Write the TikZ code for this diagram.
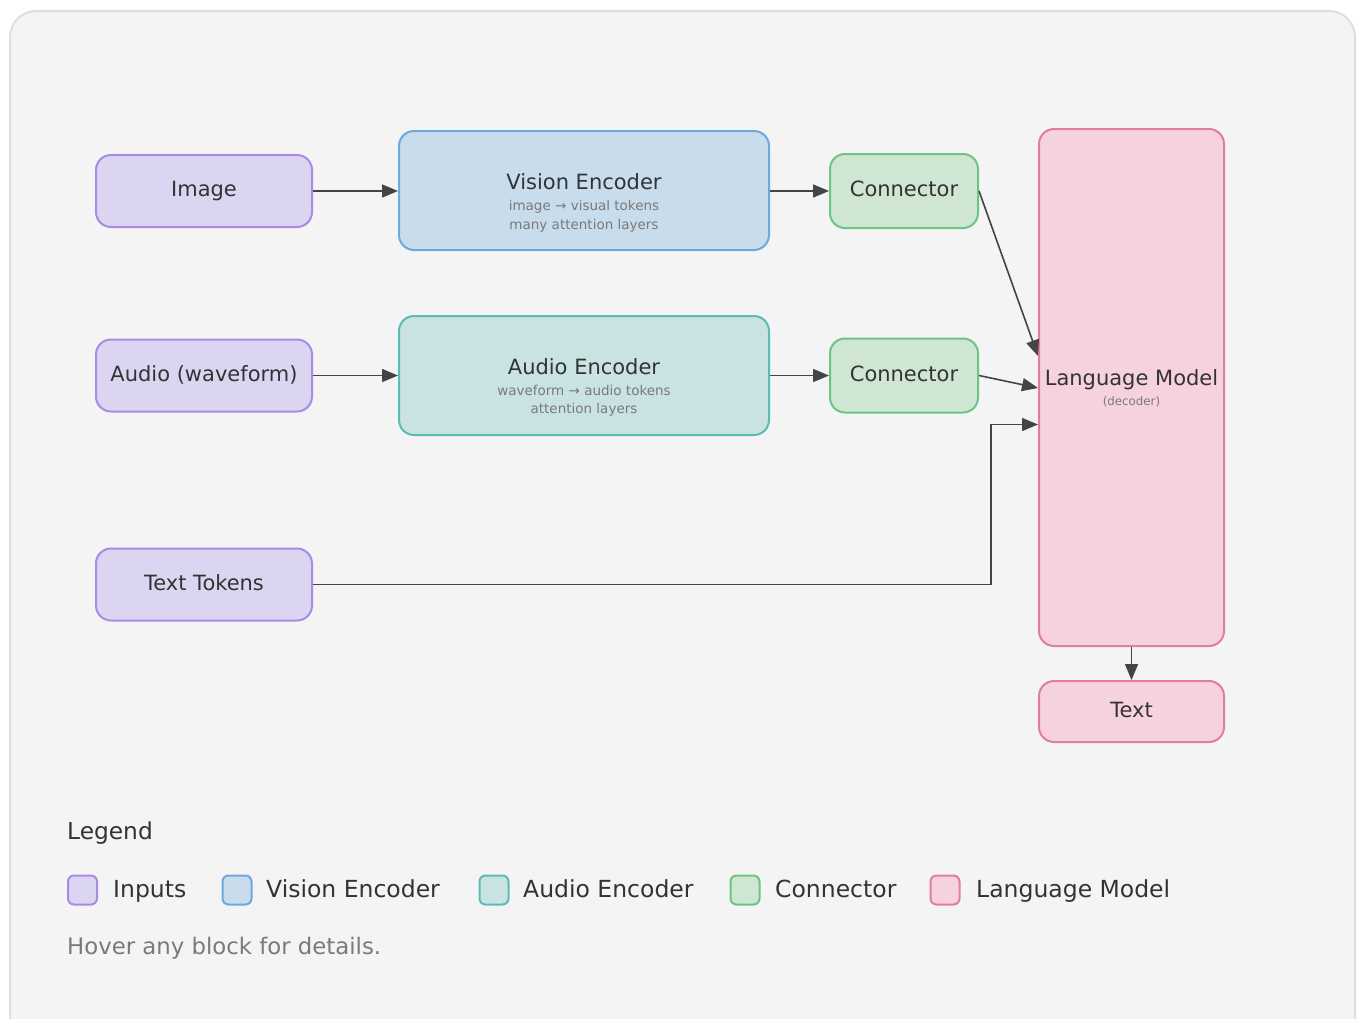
\documentclass[tikz,border=0pt]{standalone}
\usepackage{fontspec}
\setmainfont{DejaVu Sans}
\usetikzlibrary{arrows.meta,positioning,calc}
\definecolor{panel}{HTML}{F4F4F4}
\definecolor{panelDraw}{HTML}{DEDEDE}
\definecolor{inFill}{HTML}{DCD5F2}
\definecolor{inDraw}{HTML}{A88BE6}
\definecolor{visFill}{HTML}{C8DCEC}
\definecolor{visDraw}{HTML}{6EA8E0}
\definecolor{audFill}{HTML}{C8E3E2}
\definecolor{audDraw}{HTML}{5BBCB6}
\definecolor{conFill}{HTML}{CFE7D2}
\definecolor{conDraw}{HTML}{6DC483}
\definecolor{lmFill}{HTML}{F6D2DC}
\definecolor{lmDraw}{HTML}{E07EA0}
\definecolor{ink}{HTML}{333333}
\definecolor{subInk}{HTML}{7A7A7A}
\definecolor{arrowInk}{HTML}{444444}
\tikzset{
  blk/.style={rounded corners=15pt, line width=2pt, inner sep=0pt, align=center,
    text=ink, font=\fontsize{21}{25}\selectfont, text height=15.5pt, text depth=4pt},
  inblk/.style={blk, fill=inFill, draw=inDraw, minimum width=216pt, minimum height=72pt},
  visblk/.style={blk, fill=visFill, draw=visDraw, minimum width=370pt, minimum height=119pt},
  audblk/.style={blk, fill=audFill, draw=audDraw, minimum width=370pt, minimum height=119pt},
  conblk/.style={blk, fill=conFill, draw=conDraw, minimum width=148pt, minimum height=74pt},
  lmblk/.style={blk, fill=lmFill, draw=lmDraw},
  ttl/.style={anchor=base, inner sep=0pt, text=ink, font=\fontsize{21}{25}\selectfont},
  sub/.style={anchor=base, inner sep=0pt, text=subInk, font=\fontsize{13.5}{16}\selectfont},
  arr/.style={draw=arrowInk, line width=1.6pt, -{Triangle[length=16pt,width=13pt]}},
  lgsq/.style={rounded corners=6pt, line width=2pt, minimum width=29pt, minimum height=29pt, inner sep=0pt},
  lgtxt/.style={anchor=base west, inner sep=0pt, text=ink, font=\fontsize{23.5}{28}\selectfont},
}
\begin{document}
\begin{tikzpicture}[x=1pt,y=-1pt]
\clip (0,0) rectangle (1359,1018);
\fill[white] (0,0) rectangle (1359,1018);
\draw[fill=panel, draw=panelDraw, line width=2pt, rounded corners=26pt] (10,11) rectangle (1355,1060);

% inputs
\node[inblk] (img) at (204,191) {Image};
\node[inblk] (aud) at (204,375.5) {Audio (waveform)};
\node[inblk] (tt) at (204,584.5) {Text Tokens};

% encoders
\node[visblk] (vis) at (584,190.5) {};
\node[ttl] (vist) at (584,189.5) {Vision Encoder};
\node[sub] (viss1) at (584,210) {image → visual tokens};
\node[sub] (viss2) at (584,229) {many attention layers};
\node[audblk] (aen) at (584,375.5) {};
\node[ttl] (aent) at (584,374) {Audio Encoder};
\node[sub] (aens1) at (584,395) {waveform → audio tokens};
\node[sub] (aens2) at (584,413.5) {attention layers};

% connectors
\node[conblk] (con1) at (904,191) {Connector};
\node[conblk] (con2) at (904,375.5) {Connector};

% language model
\node[lmblk, minimum width=185pt, minimum height=517pt] (lm) at (1131.5,387.5) {};
\node[ttl] (lmt) at (1131.5,385.5) {Language Model};
\node[anchor=base, inner sep=0pt, text=subInk, font=\fontsize{11.8}{14}\selectfont] (lms) at (1131.5,405) {(decoder)};
\node[lmblk, minimum width=185pt, minimum height=61pt] (out) at (1131.5,711.5) {Text};

% connection points
\coordinate (lmIn1) at (1038,356);
\coordinate (lmIn2) at (1038,388);
\coordinate (lmIn3) at (1038,424.5);
\coordinate (tturn) at (991,424.5);

% arrows
\draw[arr] (img.east) -- (vis.west |- img.east);
\draw[arr] (aud.east) -- (aen.west |- aud.east);
\draw[arr] (vis.east |- con1.west) -- (con1.west);
\draw[arr] (aen.east |- con2.west) -- (con2.west);
\draw[arr] (con1.east) -- (lmIn1);
\draw[arr] (con2.east) -- (lmIn2);
\draw[arr] (tt.east) -| (tturn) -- (lmIn3);
\draw[arr] (lm.south) -- (out.north);

% legend
\node[anchor=base west, inner sep=0pt, text=ink, font=\fontsize{23.3}{28}\selectfont] (lgtitle) at (67,839.5) {Legend};
\node[lgsq, fill=inFill, draw=inDraw] (lg1) at (82.5,890) {};
\node[lgtxt] (lg1t) at (113,897.5) {Inputs};
\node[lgsq, fill=visFill, draw=visDraw] (lg2) at (237,890) {};
\node[lgtxt] (lg2t) at (266,897.5) {Vision Encoder};
\node[lgsq, fill=audFill, draw=audDraw] (lg3) at (494,890) {};
\node[lgtxt] (lg3t) at (523,897.5) {Audio Encoder};
\node[lgsq, fill=conFill, draw=conDraw] (lg4) at (745,890) {};
\node[lgtxt] (lg4t) at (775,897.5) {Connector};
\node[lgsq, fill=lmFill, draw=lmDraw] (lg5) at (945,890) {};
\node[lgtxt] (lg5t) at (976,897.5) {Language Model};
\node[anchor=base west, inner sep=0pt, text=subInk, font=\fontsize{22.8}{27}\selectfont] (hover) at (67,954) {Hover any block for details.};
\end{tikzpicture}
\end{document}
